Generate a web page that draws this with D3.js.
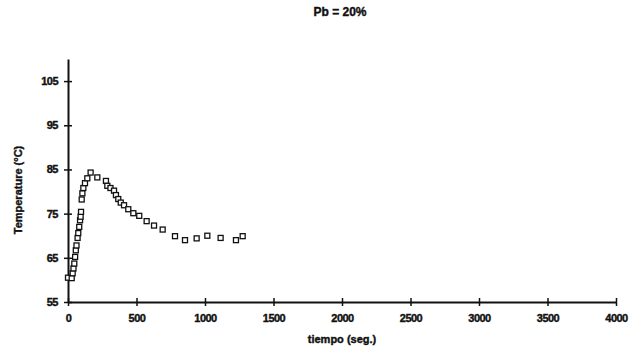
<!DOCTYPE html>
<html>
<head>
<meta charset="utf-8">
<script src="https://cdn.jsdelivr.net/npm/d3@7"></script>
<style>
  body { margin: 0; background: white; }
  text { font-family: "Liberation Sans", Arial, sans-serif; font-weight: bold; fill: #111; }
</style>
</head>
<body>
<div id="chart"></div>
<script>
// Pb = 20% temperature curve
var width = 642;
var height = 358;

// data
var tiempo = [0, 27, 34, 40, 46, 52, 57, 62, 70, 75, 82, 88, 92, 95, 100, 105, 112, 124, 141, 165,
              214, 277, 287, 310, 336, 350, 367, 385, 409, 440, 477, 520, 574, 628, 691, 781, 854, 939, 1017, 1114, 1226, 1275];
var temperatura = [60.5, 60.4, 61.5, 62.6, 63.7, 65.2, 66.7, 67.8, 69.5, 70.6, 72, 73.5, 74.3, 75.4, 78.2, 79.6, 80.8, 81.9, 83, 84.3,
                   83.2, 82.4, 81.3, 80.8, 80.2, 79.2, 78.3, 77.5, 76.9, 76, 75.1, 74.5, 73.3, 72.3, 71.4, 69.9, 69, 69.4, 70, 69.5, 69, 69.9];
var xTicks = [0, 500, 1000, 1500, 2000, 2500, 3000, 3500, 4000];
var yTicks = [55, 65, 75, 85, 95, 105];

var svg = d3.select("#chart")
    .append("svg")
    .attr("width", width)
    .attr("height", height);

var xScale = d3.scaleLinear().domain([0, 4000]).range([68, 616]);
var yScale = d3.scaleLinear().domain([55, 110]).range([302, 59]);

// axes
var xAxis = d3.axisBottom(xScale).tickValues(xTicks).tickFormat(d3.format("d")).tickSize(0).tickPadding(12);
var yAxis = d3.axisLeft(yScale).tickValues(yTicks).tickFormat(d3.format("d")).tickSize(0).tickPadding(10);

var gx = svg.append("g").attr("transform", "translate(0,302)").call(xAxis);
var gy = svg.append("g").attr("transform", "translate(68,0)").call(yAxis);

[gx, gy].forEach(function(g) {
  g.select(".domain").attr("stroke", "#111").attr("stroke-width", 2);
  g.selectAll("text").style("font-size", "11px").style("font-weight", "bold")
    .style("letter-spacing", "-0.5px").attr("fill", "#111")
    .attr("stroke", "#111").attr("stroke-width", 0.4);
});

// crossing tick marks
gx.selectAll(".tick").append("line").attr("y1", -4).attr("y2", 4).attr("stroke", "#111").attr("stroke-width", 1.5);
gy.selectAll(".tick").append("line").attr("x1", -4).attr("x2", 4).attr("stroke", "#111").attr("stroke-width", 1.5);

// data points as open squares
var pts = tiempo.map(function(t, i) { return {t: t, v: temperatura[i]}; });
svg.append("g").selectAll("rect")
    .data(pts)
    .enter()
    .append("rect")
    .attr("x", d => xScale(d.t) - 2.5)
    .attr("y", d => yScale(d.v) - 2.5)
    .attr("width", 5)
    .attr("height", 5)
    .attr("fill", "white")
    .attr("stroke", "#111")
    .attr("stroke-width", 1.3);

// labels
svg.append("text").text("Pb = 20%")
    .attr("x", 340).attr("y", 16)
    .attr("text-anchor", "middle")
    .attr("stroke", "#111").attr("stroke-width", 0.4)
    .style("font-size", "12px");

svg.append("text").text("tiempo (seg.)")
    .attr("x", 342).attr("y", 343)
    .attr("text-anchor", "middle")
    .attr("stroke", "#111").attr("stroke-width", 0.4)
    .style("font-size", "11px");

svg.append("text").text("Temperature (°C)")
    .attr("transform", "translate(22,190) rotate(-90)")
    .attr("text-anchor", "middle")
    .attr("stroke", "#111").attr("stroke-width", 0.4)
    .style("font-size", "11px");
</script>
</body>
</html>
